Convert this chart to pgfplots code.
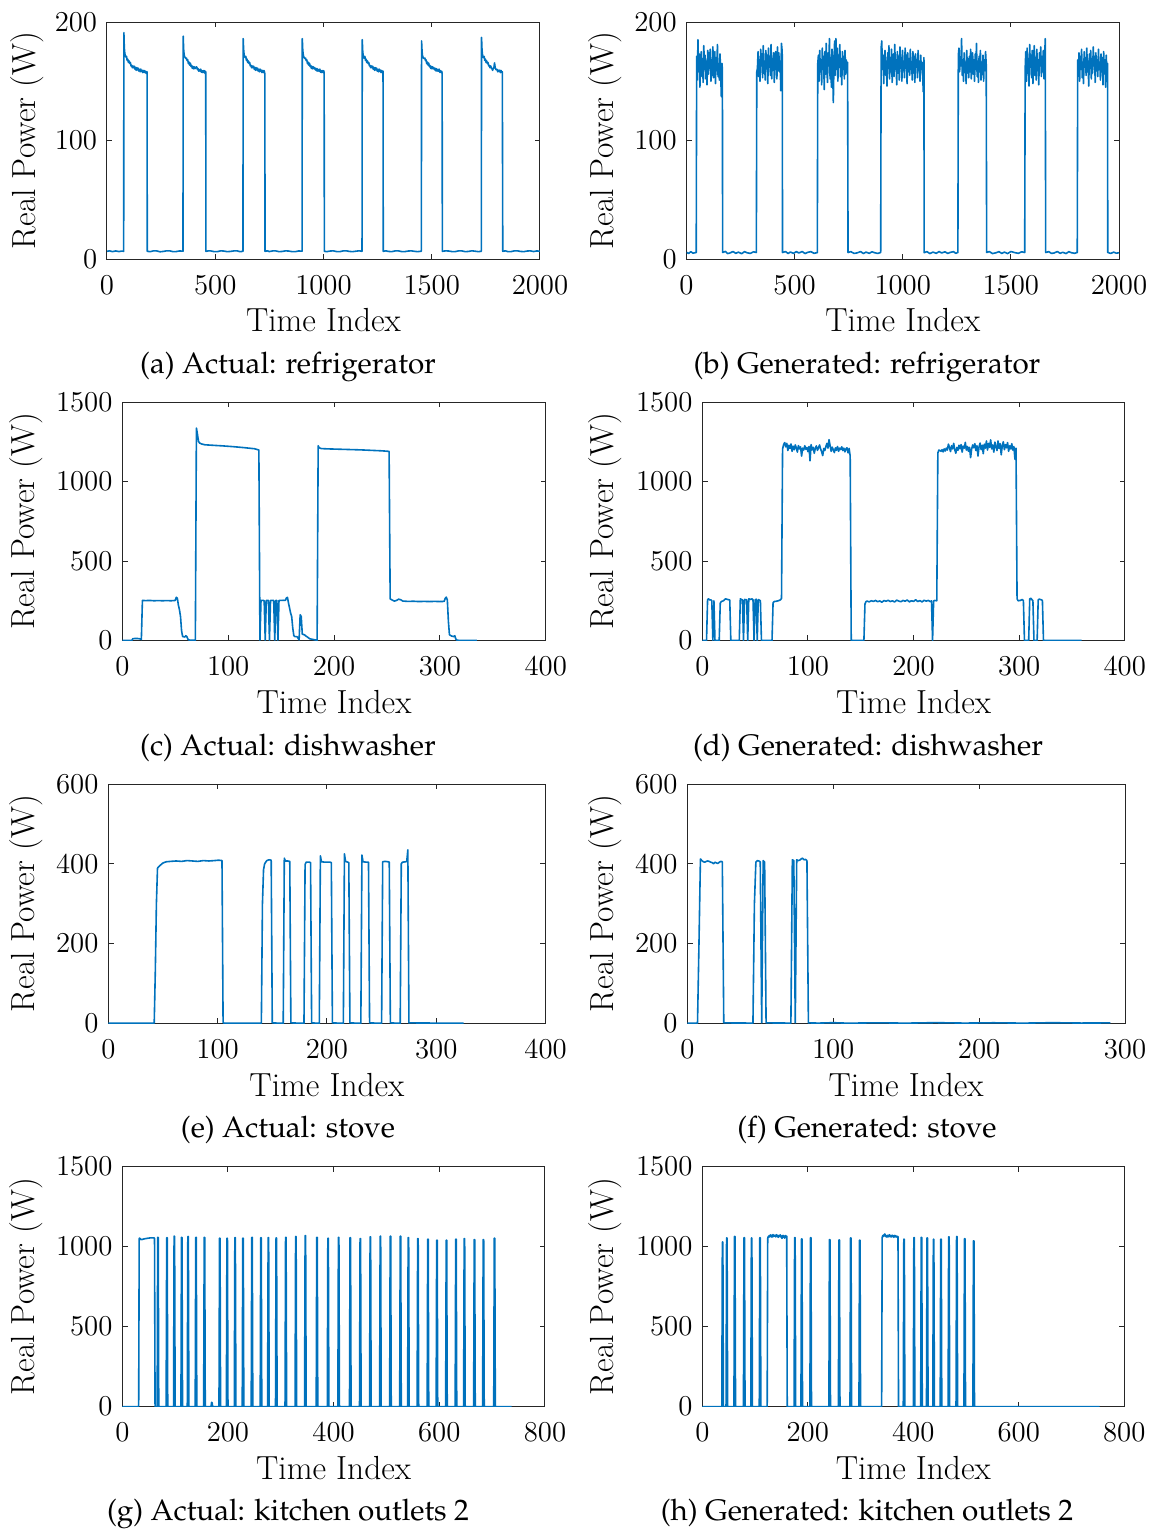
\documentclass[border=0pt]{standalone}
\usepackage[T1,TU]{fontenc}
\usepackage{pgfplots}
\pgfplotsset{compat=1.18}

\definecolor{mblue}{RGB}{0,114,189}
\definecolor{axgray}{RGB}{38,38,38}

% caption font: Palatino
\newcommand{\capfont}{\fontencoding{T1}\fontfamily{ppl}\fontsize{14.8}{17}\selectfont}

\pgfplotsset{
  panel/.style={
    scale only axis,
    axis line style={draw=axgray,line width=0.5pt},
    tick style={draw=axgray,line width=0.5pt},
    major tick length=2.6pt,
    tick align=inside,
    tick label style={font=\fontsize{13.7}{15}\selectfont},
    xticklabel style={yshift=-4.8pt},
    yticklabel style={xshift=-1.4pt},
    scaled ticks=false,
    /pgf/number format/1000 sep={},
    xlabel={Time Index},
    ylabel={Real Power (W)},
    every axis label/.append style={font=\fontsize{16.7}{19}\selectfont},
    xlabel style={at={(axis description cs:0.5,0)},anchor=base,yshift=-36.4pt},
  },
  sig/.style={draw=mblue,line width=0.8pt,mark=none,line join=round},
  ylabpos/.style={ylabel style={at={(axis description cs:-#1,0.5)},anchor=base}},
}

\begin{document}
\begin{tikzpicture}
\path[use as bounding box] (0,0) rectangle (578.5pt,-766pt);

% ---------------- (a) Actual: refrigerator ----------------
\begin{axis}[panel, ylabpos=0.16628,
  at={(53.5pt,-11pt)}, anchor=north west, width=216.5pt, height=118.5pt,
  xmin=0, xmax=2000, ymin=0, ymax=200,
  xtick={0,500,1000,1500,2000}, ytick={0,100,200}]
\addplot[sig] coordinates {
(0,6.5) (12,6.9) (25,6.2) (40,6.8) (55,6.3) (68,6.7) (77,6.5)
(78,191) (80,178) (82,174) (84,172) (87,170.5)
(90,171.0) (93,167.6) (96,168.6) (99,165.8) (102,167.1) (105,165.0) (108,165.8) (111,163.0)
(114,163.4) (117,161.4) (120,162.9) (123,161.4) (126,162.7) (129,160.2) (132,161.7) (135,159.2)
(138,161.5) (141,159.6) (144,161.1) (147,158.6) (150,160.0) (153,158.0) (156,160.3) (159,158.3)
(162,159.3) (165,157.3) (168,159.1) (171,157.5) (174,159.0) (177,157.1) (180,158.2) (183,156.4) (185,158)
(186,6.5) (200,6.2) (215,6.9) (230,6.8) (245,6.1) (260,6.4) (275,6.9) (290,6.9) (305,6.2) (320,6.3) (335,6.8) (351,6.6)
(352,188) (354,177) (356,173) (358,171) (361,170)
(364,169.2) (367,169.6) (370,167.5) (373,168.0) (376,164.8) (379,166.2) (382,163.6) (385,165.3)
(388,162.4) (391,163.3) (394,160.9) (397,162.5) (400,160.5) (403,162.2) (406,160.6) (409,161.4)
(412,162.0) (415,162.0) (418,159.7) (421,160.6) (424,158.5) (427,159.8) (430,158.5) (433,160.2)
(436,157.6) (439,158.9) (442,157.4) (445,159.0) (448,157.4) (451,158.9) (454,156.3) (456,158)
(457,6.5) (470,6.9) (480,6.8) (495,6.2) (510,6.2) (525,6.9) (540,6.7) (555,6.2) (570,6.4) (585,6.8) (600,6.9) (615,6.2) (628,6.5)
(629,186) (631,177) (633,173) (635,171) (638,170)
(641,171.0) (644,167.6) (647,168.6) (650,165.8) (653,167.1) (656,165.0) (659,165.8) (662,163.0)
(665,163.4) (668,161.4) (671,162.9) (674,161.4) (677,162.7) (680,160.2) (683,161.7) (686,159.2)
(689,161.5) (692,159.6) (695,161.1) (698,158.6) (701,160.0) (704,158.0) (707,160.3) (710,158.3)
(713,159.3) (716,157.3) (719,159.1) (722,157.5) (725,159.0) (728,157.4) (729,156)
(730,6.5) (740,6.9) (750,6.3) (765,6.8) (780,6.8) (795,6.2) (810,6.4) (825,6.9) (840,6.7) (855,6.2) (870,6.2) (885,6.8) (901,6.6)
(902,186) (904,177) (906,173) (908,171) (911,170)
(914,169.2) (917,169.6) (920,167.5) (923,168.0) (926,164.8) (929,166.2) (932,163.6) (935,165.3)
(938,162.4) (941,163.3) (944,160.9) (947,162.5) (950,160.5) (953,162.2) (956,160.6) (959,161.4)
(962,159.7) (965,160.9) (968,158.8) (971,160.6) (974,158.5) (977,159.8) (980,158.5) (983,160.2)
(986,157.6) (989,158.9) (992,157.4) (995,159.0) (998,157.4) (1001,158.9) (1003,157.5)
(1004,6.5) (1015,6.2) (1030,6.7) (1045,6.9) (1060,6.3) (1075,6.2) (1090,6.8) (1105,6.9) (1120,6.4) (1135,6.2) (1150,6.6) (1165,6.9) (1178,6.5)
(1179,185) (1181,176) (1183,172) (1185,170.5) (1188,169.5)
(1191,171.0) (1194,167.6) (1197,168.6) (1200,165.8) (1203,167.1) (1206,165.0) (1209,165.8) (1212,163.0)
(1215,163.4) (1218,161.4) (1221,162.9) (1224,161.4) (1227,162.7) (1230,160.2) (1233,161.7) (1236,159.2)
(1239,161.5) (1242,159.6) (1245,161.1) (1248,158.6) (1251,160.0) (1254,158.0) (1257,160.3) (1260,158.3)
(1263,159.3) (1266,157.3) (1269,159.1) (1272,157.5) (1275,158.5)
(1276,6.5) (1288,6.9) (1300,6.4) (1315,6.2) (1330,6.8) (1345,6.9) (1360,6.3) (1375,6.2) (1390,6.7) (1405,6.9) (1420,6.5) (1435,6.2) (1452,6.6)
(1453,184) (1455,176) (1457,172) (1459,170.5) (1462,169.5)
(1465,169.2) (1468,169.6) (1471,167.5) (1474,168.0) (1477,164.8) (1480,166.2) (1483,163.6) (1486,165.3)
(1489,162.4) (1492,163.3) (1495,160.9) (1498,162.5) (1501,160.5) (1504,162.2) (1507,160.6) (1510,161.4)
(1513,159.7) (1516,160.9) (1519,158.8) (1522,160.6) (1525,158.5) (1528,159.8) (1531,158.5) (1534,160.2)
(1537,157.6) (1540,158.9) (1543,157.4) (1546,158.5) (1548,156.5)
(1549,6.5) (1565,6.9) (1580,6.7) (1595,6.2) (1610,6.3) (1625,6.9) (1640,6.8) (1655,6.2) (1670,6.4) (1685,6.9) (1700,6.6) (1715,6.2) (1729,6.5)
(1730,187) (1732,177) (1734,173) (1736,171) (1739,170)
(1742,171.0) (1745,167.6) (1748,168.6) (1751,165.8) (1754,167.1) (1757,165.0) (1760,165.8) (1763,163.0)
(1766,163.4) (1769,161.4) (1772,162.9) (1775,161.4) (1778,160.7) (1781,159.2) (1784,160.7) (1787,161.2)
(1790,165.5) (1793,161.6) (1796,160.1) (1799,159.6) (1802,160.0) (1805,158.0) (1808,159.3) (1811,158.3)
(1814,159.3) (1817,157.3) (1820,159.1) (1823,157.5) (1826,158.0)
(1828,6.5) (1840,6.9) (1850,6.3) (1865,6.2) (1880,6.8) (1895,6.9) (1910,6.4) (1925,6.2) (1940,6.7) (1955,6.9) (1970,6.3) (1985,6.8) (2000,6.6)
};
\end{axis}

% ---------------- (b) Generated: refrigerator ----------------
\begin{axis}[panel, ylabpos=0.16786,
  at={(343.25pt,-11pt)}, anchor=north west, width=216.25pt, height=118.5pt,
  xmin=0, xmax=2000, ymin=0, ymax=200,
  xtick={0,500,1000,1500,2000}, ytick={0,100,200}]
\addplot[sig] coordinates {
(0,5.6) (10,4.7) (20,6.2) (30,4.9) (45,5.5)
(47,171) (50,151) (53,185) (56,158) (59,173) (62,145) (65,166) (68,175) (71,154) (74,169)
(77,149) (80,180) (83,160) (86,172) (89,152) (92,167) (95,147) (98,176) (101,156) (104,174)
(107,161) (110,177) (113,150) (116,168) (119,155) (122,179) (125,153) (128,165) (131,175)
(134,148) (137,170) (140,159) (143,181) (146,154) (149,164) (152,151) (155,173) (158,157)
(161,137) (164,165) (166,160)
(167,5.5) (180,6.4) (190,4.6) (200,5.0) (215,6.3) (228,4.8) (240,5.8) (255,4.5) (268,6.2) (280,5.3) (295,4.7) (310,6.1) (323,5.5)
(325,158) (328,161) (331,175) (334,154) (337,168) (340,150) (343,177) (346,163) (349,173)
(352,153) (355,180) (358,157) (361,167) (364,151) (367,176) (370,161) (373,172) (376,148)
(379,178) (382,162) (385,171) (388,155) (391,181) (394,152) (397,169) (400,160) (403,174)
(406,149) (409,166) (412,175) (415,172) (418,152) (421,179) (424,159) (427,174) (430,158)
(433,167) (436,142) (439,182) (442,176) (443,170)
(444,5.5) (458,6.3) (470,4.6) (480,5.9) (495,4.8) (508,6.2) (520,5.1) (535,6.3) (548,4.6) (560,5.6) (575,6.2) (590,4.8) (605,5.4)
(607,165) (610,172) (613,150) (616,176) (619,158) (622,168) (625,147) (628,178) (631,160)
(634,171) (637,143) (640,175) (643,156) (646,182) (649,161) (652,149) (655,174) (658,163)
(661,186) (664,152) (667,170) (670,145) (673,177) (676,158) (679,132) (682,167) (685,184)
(688,155) (691,186) (694,160) (697,178) (700,150) (703,172) (706,163) (709,181) (712,154)
(715,169) (718,147) (721,175) (724,160) (727,171) (730,152) (733,176) (736,156) (739,168)
(742,158) (745,166)
(747,5.5) (760,6.2) (775,4.7) (790,5.2) (805,6.3) (818,4.6) (830,5.8) (845,4.8) (858,6.1) (870,5.3) (885,4.7) (898,5.5)
(900,178) (903,184) (906,160) (909,172) (912,148) (915,169) (918,176) (921,155) (924,167)
(927,146) (930,174) (933,161) (936,180) (939,152) (942,170) (945,158) (948,177) (951,149)
(954,166) (957,173) (960,154) (963,181) (966,160) (969,168) (972,147) (975,175) (978,157)
(981,171) (984,151) (987,179) (990,163) (993,170) (996,150) (999,176) (1002,159) (1005,167)
(1008,153) (1011,178) (1014,161) (1017,172) (1020,148) (1023,174) (1026,158) (1029,169)
(1032,155) (1035,177) (1038,160) (1041,166) (1044,151) (1047,175) (1050,157) (1053,171)
(1056,149) (1059,173) (1062,162) (1065,168) (1068,153) (1071,176) (1074,159) (1077,167)
(1080,150) (1083,172) (1086,160) (1089,166) (1092,155) (1095,141) (1098,170)
(1099,5.4) (1112,6.2) (1125,4.6) (1140,5.8) (1155,4.8) (1168,6.3) (1180,5.1) (1195,6.1) (1208,4.7) (1220,5.6) (1235,6.2) (1245,4.8) (1255,5.5)
(1257,172) (1260,178) (1263,158) (1266,170) (1269,163) (1272,186) (1275,155) (1278,168)
(1281,150) (1284,174) (1287,160) (1290,166) (1293,148) (1296,176) (1299,157) (1302,169)
(1305,153) (1308,171) (1311,158) (1314,177) (1317,152) (1320,165) (1323,174) (1326,156)
(1329,168) (1332,150) (1335,173) (1338,160) (1341,182) (1344,154) (1347,167) (1350,149)
(1353,171) (1356,158) (1359,176) (1362,151) (1365,166) (1368,156) (1371,172) (1374,150)
(1377,168) (1380,159) (1383,175) (1386,164)
(1388,5.5) (1400,6.3) (1415,4.6) (1430,5.2) (1445,6.2) (1458,4.7) (1470,5.8) (1485,4.6) (1500,6.3) (1520,5.3) (1535,4.8) (1550,6.1) (1564,5.5)
(1566,160) (1569,175) (1572,150) (1575,178) (1578,157) (1581,169) (1584,146) (1587,181)
(1590,162) (1593,172) (1596,153) (1599,176) (1602,148) (1605,167) (1608,180) (1611,155)
(1614,170) (1617,151) (1620,177) (1623,159) (1626,168) (1629,147) (1632,174) (1635,163)
(1638,179) (1641,154) (1644,171) (1647,158) (1650,176) (1653,152) (1656,169) (1659,186)
(1661,5.5) (1675,6.2) (1688,4.7) (1700,5.1) (1715,6.3) (1728,4.8) (1740,5.7) (1755,4.6) (1768,6.2) (1780,5.3) (1795,4.8) (1807,5.5)
(1809,168) (1812,158) (1815,174) (1818,150) (1821,171) (1824,160) (1827,177) (1830,153)
(1833,166) (1836,148) (1839,175) (1842,162) (1845,170) (1848,155) (1851,178) (1854,158)
(1857,167) (1860,146) (1863,173) (1866,161) (1869,176) (1872,152) (1875,169) (1878,157)
(1881,179) (1884,163) (1887,171) (1890,149) (1893,174) (1896,159) (1899,168) (1902,154)
(1905,177) (1908,160) (1911,166) (1914,151) (1917,173) (1920,158) (1923,170) (1926,147)
(1929,175) (1932,161) (1935,168) (1938,145) (1941,172) (1944,157) (1947,165)
(1948,5.5) (1962,4.7) (1975,5.8) (1988,4.9) (2000,5.3)
};
\end{axis}

% ---------------- (c) Actual: dishwasher ----------------
\begin{axis}[panel, ylabpos=0.20638,
  at={(61.15pt,-201pt)}, anchor=north west, width=211.75pt, height=119.25pt,
  xmin=0, xmax=400, ymin=0, ymax=1500,
  xtick={0,100,200,300,400}, ytick={0,500,1000,1500}]
\addplot[sig] coordinates {
(0,1) (9,1) (10,12) (14,13) (17,10) (18,6) (19,252) (22,251) (26,252) (30,250) (34,251)
(38,250) (42,251) (46,250) (50,252) (51,272) (52,266) (53,222) (54,193) (55,150) (56,60)
(57,25) (59,22) (60,30) (61,24) (62,8) (63,3) (69,2)
(70,1336) (71,1296) (72,1252) (73,1242) (75,1236) (78,1231) (85,1228) (95,1224) (105,1219)
(115,1213) (125,1206) (128,1200) (129,1198)
(130,2) (131,252) (133,252) (134,251) (135,2) (136,252) (138,252) (139,2) (140,252) (143,252)
(144,2) (145,252) (146,252) (147,2) (148,252) (152,253) (154,252) (155,268) (156,271)
(157,235) (158,204) (159,172) (160,150) (161,78) (162,31) (163,25) (165,24) (166,15) (167,4)
(168,162) (169,151) (170,40) (172,36) (173,30) (175,21) (177,11) (182,4) (184,2)
(185,1225) (186,1212) (188,1207) (195,1205) (205,1203) (215,1201) (225,1199) (235,1196)
(245,1193) (251,1190) (252,1189)
(253,262) (255,254) (257,248) (259,252) (261,260) (263,256) (265,248) (270,246) (275,247)
(280,245) (285,246) (290,245) (295,246) (300,245) (304,246) (305,265) (306,273) (307,255)
(308,120) (309,36) (311,28) (313,25) (314,30) (315,10) (316,2) (320,0) (335,0)
};
\end{axis}

% ---------------- (d) Generated: dishwasher ----------------
\begin{axis}[panel, ylabpos=0.20923,
  at={(351.15pt,-201pt)}, anchor=north west, width=211.25pt, height=119.25pt,
  xmin=0, xmax=400, ymin=0, ymax=1500,
  xtick={0,100,200,300,400}, ytick={0,500,1000,1500}]
\addplot[sig] coordinates {
(0,0) (4,0) (5,258) (6,262) (7,255) (8,256) (9,250) (10,0) (11,250) (12,0) (16,0) (17,235)
(18,245) (20,250) (22,262) (24,258) (26,255) (27,0) (35,0) (36,262) (38,255) (39,0) (40,258)
(42,256) (43,0) (44,262) (46,258) (47,262) (48,256) (49,0) (50,255) (51,260) (52,0) (53,258)
(55,250) (56,0) (66,0) (67,238) (68,245) (70,247) (72,250) (74,256) (75,265)
(76,1205) (77,1232) (78,1245) (79,1218) (80,1240) (81,1195) (82,1228) (83,1208) (84,1236)
(85,1190) (86,1222) (87,1200) (88,1230) (89,1212) (90,1185) (91,1226) (92,1205) (93,1218)
(94,1160) (95,1210) (96,1198) (97,1225) (98,1203) (99,1214) (100,1188) (101,1220) (102,1130)
(103,1232) (104,1199) (105,1215) (106,1178) (107,1209) (108,1224) (109,1196) (110,1212)
(111,1230) (112,1205) (113,1187) (114,1163) (115,1208) (116,1195) (117,1220) (118,1240)
(119,1210) (120,1263) (121,1225) (122,1190) (123,1216) (124,1200) (125,1182) (126,1212)
(127,1196) (128,1220) (129,1190) (130,1210) (131,1201) (132,1218) (133,1195) (134,1210)
(135,1186) (136,1205) (137,1212) (138,1180) (139,1208) (140,1160)
(141,0) (153,0) (154,230) (155,245) (156,248) (158,243) (160,250) (162,246) (164,252)
(166,244) (168,249) (170,241) (172,251) (174,247) (176,253) (178,245) (180,250) (182,242)
(184,254) (186,248) (188,244) (190,252) (192,247) (194,255) (196,243) (198,250) (200,246)
(202,256) (204,245) (206,251) (208,243) (210,253) (212,248) (214,252) (216,244) (217,250)
(218,0) (219,248) (220,252) (222,250)
(223,1180) (224,1198) (225,1195) (226,1190) (227,1200) (228,1186) (229,1205) (230,1192)
(231,1210) (232,1198) (233,1235) (234,1215) (235,1188) (236,1225) (237,1205) (238,1240)
(239,1200) (240,1178) (241,1214) (242,1196) (243,1228) (244,1206) (245,1232) (246,1185)
(247,1222) (248,1210) (249,1246) (250,1198) (251,1220) (252,1190) (253,1215) (254,1150)
(255,1205) (256,1230) (257,1212) (258,1238) (259,1195) (260,1225) (261,1160) (262,1218)
(263,1242) (264,1200) (265,1228) (266,1175) (267,1235) (268,1210) (269,1255) (270,1198)
(271,1240) (272,1215) (273,1262) (274,1205) (275,1230) (276,1185) (277,1248) (278,1220)
(279,1195) (280,1255) (281,1208) (282,1238) (283,1168) (284,1226) (285,1250) (286,1200)
(287,1232) (288,1212) (289,1245) (290,1190) (291,1225) (292,1205) (293,1238) (294,1198)
(295,1220) (296,1140) (297,1210)
(298,262) (299,250) (301,252) (303,258) (304,250) (305,0) (309,0) (310,262) (311,266)
(312,258) (313,250) (314,0) (317,0) (318,255) (319,260) (321,256) (322,252) (323,0) (359,0)
};
\end{axis}

% ---------------- (e) Actual: stove ----------------
\begin{axis}[panel, ylabpos=0.16785,
  at={(54.15pt,-392pt)}, anchor=north west, width=218.65pt, height=119.65pt,
  xmin=0, xmax=400, ymin=0, ymax=600,
  xtick={0,100,200,300,400}, ytick={0,200,400,600}]
\addplot[sig] coordinates {
(0,0.5) (20,0) (42,0.5) (43,130) (44,300) (45,389) (47,395) (50,402) (53,405) (57,406)
(62,407) (67,406) (72,408) (77,407) (82,406) (87,408) (92,407) (97,408) (101,409) (104,408)
(105,2) (106,0) (140,0) (141,300) (142,385) (143,400) (145,408) (147,410) (149,409) (150,1)
(160,0) (161,414) (162,407) (164,407) (166,406) (167,1) (179,0) (180,398) (181,404) (184,404)
(185,403) (186,1) (193,0) (194,420) (195,405) (198,404) (203,404) (204,403) (205,1) (215,0)
(216,425) (217,406) (219,404) (220,403) (221,1) (231,0) (232,422) (233,405) (236,404)
(238,404) (239,1) (250,0) (251,405) (253,406) (256,405) (257,404) (258,1) (267,0) (268,400)
(269,404) (272,405) (273,406) (274,435) (275,1) (300,0.5) (325,0)
};
\end{axis}

% ---------------- (f) Generated: stove ----------------
\begin{axis}[panel, ylabpos=0.16770,
  at={(343.65pt,-392pt)}, anchor=north west, width=218.85pt, height=119.65pt,
  xmin=0, xmax=300, ymin=0, ymax=600,
  xtick={0,100,200,300}, ytick={0,200,400,600}]
\addplot[sig] coordinates {
(0,0.5) (7,0.5) (8,200) (9,412) (10,408) (11,405) (12,404) (13,406) (14,407) (15,406)
(16,404) (17,403) (18,400) (19,404) (20,402) (21,401) (22,404) (23,406) (24,405) (25,1)
(45,0.5) (46,300) (47,404) (48,408) (49,407) (50,405) (51,1) (52,408) (53,404) (54,1)
(71,0.5) (72,410) (73,408) (74,1) (75,410) (76,408) (77,409) (78,412) (79,414) (80,410)
(81,411) (82,408) (83,1) (90,0.5) (100,1.5) (110,0.3) (130,1.2) (150,0.4) (170,1.6)
(190,0.5) (210,1.3) (230,0.4) (250,1.5) (270,0.6) (290,1.0)
};
\end{axis}

% ---------------- (g) Actual: kitchen outlets 2 ----------------
\begin{axis}[panel, ylabpos=0.20676,
  at={(61.15pt,-583.15pt)}, anchor=north west, width=211.35pt, height=120.2pt,
  xmin=0, xmax=800, ymin=0, ymax=1500,
  xtick={0,200,400,600,800}, ytick={0,500,1000,1500}]
\addplot[sig] coordinates {
(0,0) (31,0) (32,1050) (33,1052) (35,1045) (37,1043) (40,1046) (44,1049) (48,1051) (52,1053)
(56,1054) (60,1053) (61,1052) (62,0)
(66,0) (67,1057) (68,1057) (69,0)
(83,0) (84,1055) (85,1055) (86,0)
(97,0) (98,1064) (99,1064) (100,0)
(111,0) (112,1057) (113,1057) (114,0)
(123,0) (124,1062) (125,1062) (126,0)
(138,0) (139,1057) (140,1057) (141,0)
(154,0) (155,1057) (156,1057) (157,0)
(168,0) (169,27) (170,25) (171,0)
(183,0) (184,1051) (185,1051) (186,0)
(197,0) (198,1051) (199,1051) (200,0)
(212,0) (213,1055) (214,1055) (215,0)
(227,0) (228,1051) (229,1051) (230,0)
(244,0) (245,1057) (246,1057) (247,0)
(261,0) (262,1055) (263,1055) (264,0)
(275,0) (276,1055) (277,1055) (278,0)
(290,0) (291,1053) (292,1053) (293,0)
(308,0) (309,1057) (310,1057) (311,0)
(327,0) (328,1062) (329,1062) (330,0)
(345,0) (346,1068) (347,1068) (348,0)
(367,0) (368,1057) (369,1057) (370,0)
(388,0) (389,1051) (390,1051) (391,0)
(408,0) (409,1057) (410,1057) (411,0)
(430,0) (431,1055) (432,1055) (433,0)
(449,0) (450,1049) (451,1049) (452,0)
(468,0) (469,1060) (470,1060) (471,0)
(487,0) (488,1064) (489,1064) (490,0)
(506,0) (507,1064) (508,1064) (509,0)
(525,0) (526,1064) (527,1064) (528,0)
(540,0) (541,1055) (542,1055) (543,0)
(558,0) (559,1049) (560,1049) (561,0)
(577,0) (578,1045) (579,1045) (580,0)
(594,0) (595,1039) (596,1039) (597,0)
(612,0) (613,1039) (614,1039) (615,0)
(630,0) (631,1045) (632,1045) (633,0)
(646,0) (647,1049) (648,1049) (649,0)
(665,0) (666,1043) (667,1043) (668,0)
(682,0) (683,1043) (684,1043) (685,0)
(703,0) (704,1051) (705,1051) (706,0)
(737,0)
};
\end{axis}

% ---------------- (h) Generated: kitchen outlets 2 ----------------
\begin{axis}[panel, ylabpos=0.20948,
  at={(351.15pt,-583.15pt)}, anchor=north west, width=211pt, height=120.2pt,
  xmin=0, xmax=800, ymin=0, ymax=1500,
  xtick={0,200,400,600,800}, ytick={0,500,1000,1500}]
\addplot[sig] coordinates {
(0,0)
(37,0) (38,1028) (39,1028) (40,0)
(45,0) (46,1053) (47,1053) (48,0)
(60,0) (61,1062) (62,1062) (63,0)
(78,0) (79,1055) (80,1055) (81,0)
(92,0) (93,1053) (94,1053) (95,0)
(108,0) (109,1055) (110,1055) (111,0)
(123,0) (124,1050) (125,1062) (126,1058) (127,1068) (128,1060) (129,1072) (130,1063)
(131,1070) (132,1058) (133,1066) (134,1074) (135,1062) (136,1069) (137,1064) (138,1071)
(139,1060) (140,1067) (141,1073) (142,1061) (143,1068) (144,1057) (145,1065) (146,1070)
(147,1062) (148,1072) (149,1059) (150,1066) (151,1050) (152,1064) (153,1069) (154,1058)
(155,1065) (156,1052) (157,1063) (158,1068) (159,1060) (160,1064) (161,0)
(174,0) (175,1055) (176,1055) (177,0)
(187,0) (188,1047) (189,1047) (190,0)
(204,0) (205,1055) (206,1055) (207,0)
(240,0) (241,1043) (242,1043) (243,0)
(258,0) (259,1041) (260,1041) (261,0)
(280,0) (281,1053) (282,1053) (283,0)
(297,0) (298,1039) (299,1039) (300,0)
(340,0) (341,1055) (342,1068) (343,1062) (344,1072) (345,1066) (346,1078) (347,1070)
(348,1061) (349,1067) (350,1058) (351,1064) (352,1070) (353,1060) (354,1066) (355,1073)
(356,1062) (357,1068) (358,1059) (359,1065) (360,1070) (361,1061) (362,1067) (363,1057)
(364,1064) (365,1069) (366,1060) (367,1066) (368,1062) (369,1058) (370,1063) (371,1060) (372,0)
(381,0) (382,1045) (383,1045) (384,0)
(400,0) (401,1055) (402,1055) (403,0)
(414,0) (415,1057) (416,1057) (417,0)
(425,0) (426,1053) (427,1053) (428,0)
(437,0) (438,1045) (439,1045) (440,0)
(451,0) (452,1045) (453,1045) (454,0)
(466,0) (467,1060) (468,1060) (469,0)
(481,0) (482,1062) (483,1062) (484,0)
(496,0) (497,1049) (498,1049) (499,0)
(513,0) (514,1035) (515,1035) (516,0)
(753,0)
};
\end{axis}

% sub-figure captions
\node[anchor=base,font=\capfont] at (144pt,-186.5pt) {(a) Actual: refrigerator};
\node[anchor=base,font=\capfont] at (433.5pt,-186.5pt) {(b) Generated: refrigerator};
\node[anchor=base,font=\capfont] at (144pt,-377.5pt) {(c) Actual: dishwasher};
\node[anchor=base,font=\capfont] at (434pt,-377.5pt) {(d) Generated: dishwasher};
\node[anchor=base,font=\capfont] at (144pt,-568.5pt) {(e) Actual: stove};
\node[anchor=base,font=\capfont] at (433.5pt,-568.5pt) {(f) Generated: stove};
\node[anchor=base,font=\capfont] at (144pt,-760pt) {(g) Actual: kitchen outlets 2};
\node[anchor=base,font=\capfont] at (433.5pt,-760pt) {(h) Generated: kitchen outlets 2};
\end{tikzpicture}
\end{document}
